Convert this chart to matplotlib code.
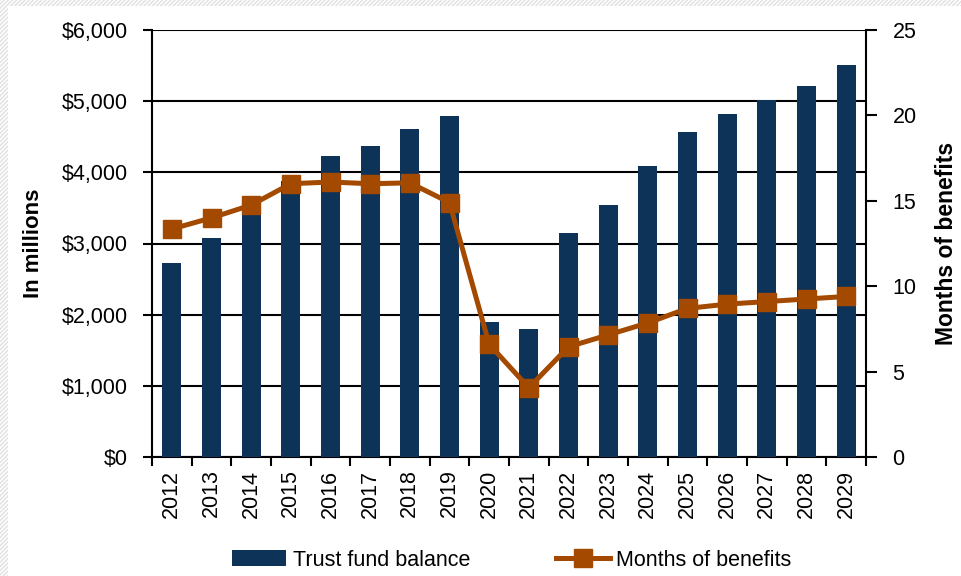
import matplotlib
matplotlib.use("Agg")
import matplotlib.pyplot as plt
from matplotlib.patches import Rectangle
from matplotlib.ticker import FuncFormatter
import numpy as np

years = [str(y) for y in range(2012, 2030)]
balance = [2730, 3080, 3450, 3880, 4230, 4370, 4610, 4790, 1900, 1800,
           3150, 3540, 4090, 4570, 4820, 5020, 5210, 5510]
months = [13.35, 14.0, 14.75, 16.0, 16.1, 16.0, 16.05, 14.9, 6.6, 4.05,
          6.45, 7.15, 7.85, 8.7, 8.95, 9.1, 9.25, 9.4]
left_ticks = [0, 1000, 2000, 3000, 4000, 5000, 6000]
right_ticks = [0, 5, 10, 15, 20, 25]

BAR = "#0E3358"
LINE = "#A34900"

plt.rcParams['font.family'] = ['Liberation Sans', 'DejaVu Sans']
plt.rcParams['hatch.linewidth'] = 1.0

fig = plt.figure(figsize=(9.61, 5.76), dpi=100)
fig.patch.set_facecolor('white')
fig.patches.append(Rectangle((0, 0), 1, 1, transform=fig.transFigure,
                             facecolor='white', edgecolor='#e0e0e0',
                             hatch='////////', linewidth=0, zorder=-20))
fig.patches.append(Rectangle((8/961, 0), 1, 1 - 6/576, transform=fig.transFigure,
                             facecolor='white', edgecolor='none',
                             linewidth=0, zorder=-19))

W, H = 961, 576
ax = fig.add_axes([152/W, (H-457)/H, (866-152)/W, (457-30)/H])
ax.set_facecolor('none')
x = np.arange(len(years))
ax.bar(x, balance, width=0.48, color=BAR, zorder=3, label='Trust fund balance')
ax.set_xlim(-0.5, len(years) - 0.5)
ax.set_ylim(0, 6000)
ax.set_yticks(left_ticks)
ax.yaxis.set_major_formatter(FuncFormatter(lambda v, p: "${:,.0f}".format(v)))
for v in left_ticks:
    ax.axhline(v, color='black', lw=1.5, zorder=1)
ax.set_xticks(x)
ax.set_xticklabels(years, rotation=90, fontsize=15.5)
ax.set_xticks(np.arange(-0.5, len(years)), minor=True)
ax.tick_params(axis='x', which='major', length=0, pad=9)
ax.tick_params(axis='x', which='minor', length=6.5, width=1.5, direction='out')
ax.tick_params(axis='y', labelsize=15.5, length=6.5, width=1.5, pad=11)
for s in ['top', 'right']:
    ax.spines[s].set_visible(False)
for s in ['left', 'bottom']:
    ax.spines[s].set_linewidth(1.5)
ax.set_ylabel('In millions', fontsize=16, fontweight='bold')
ax.yaxis.set_label_coords(-0.151, 0.5)

ax2 = ax.twinx()
ax2.plot(x, months, color=LINE, lw=3.6, marker='s', markersize=13.5,
         zorder=5, label='Months of benefits')
ax2.set_ylim(0, 25)
ax2.set_yticks(right_ticks)
ax2.tick_params(axis='y', labelsize=15.5, length=8, width=1.5, pad=11)
for s in ['top', 'left', 'bottom']:
    ax2.spines[s].set_visible(False)
ax2.spines['right'].set_linewidth(1.5)
ax2.set_ylabel('Months of benefits', fontsize=16.5, fontweight='bold')
ax2.yaxis.set_label_coords(1.097, 0.5)

h1, l1 = ax.get_legend_handles_labels()
h2, l2 = ax2.get_legend_handles_labels()
fig.legend(h1 + h2, l1 + l2, loc='center', bbox_to_anchor=(512/W, 1 - 560/H),
           ncol=2, frameon=False, fontsize=15.5, handlelength=2.5,
           handletextpad=0.3, columnspacing=4.0)

fig.savefig('out.png', dpi=100)
